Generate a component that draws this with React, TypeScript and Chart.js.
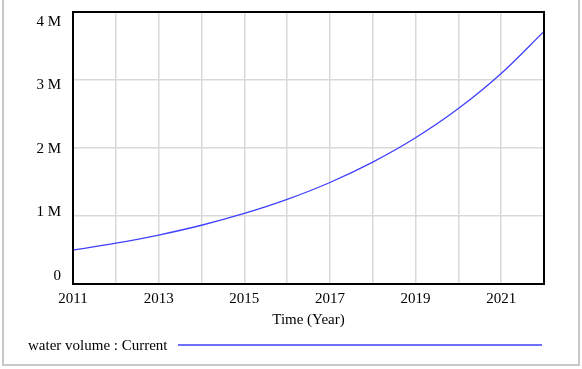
import React, { useEffect, useRef } from "react";
import { Chart, registerables } from "chart.js";

Chart.register(...registerables);

// Years (x) and water volume (millions)
const years = [2011, 2012, 2013, 2014, 2015, 2016, 2017, 2018, 2019, 2020, 2021, 2022];
const waterVolumeM = [0.5, 0.6, 0.72, 0.864, 1.037, 1.244, 1.493, 1.792, 2.15, 2.58, 3.096, 3.715];
const seriesLabel = "water volume : Current";
const xTitle = "Time (Year)";
const yTickValues = [0, 1000000, 2000000, 3000000, 4000000];

const FONT = "15px 'Liberation Serif', 'Times New Roman', serif";
const LINE_COLOR = "rgb(64,64,255)";

const decorPlugin = {
  id: "vensimDecor",
  afterDatasetsDraw(chart: any) {
    const { ctx, chartArea } = chart;
    const { left, right, top, bottom } = chartArea;
    const xs = chart.scales.x;
    ctx.save();
    // plot frame
    ctx.strokeStyle = "#000";
    ctx.lineWidth = 2;
    ctx.strokeRect(left, top, right - left, bottom - top);

    ctx.fillStyle = "#000";
    ctx.font = FONT;
    // y labels (Vensim spaces them evenly inside the frame)
    ctx.textAlign = "right";
    ctx.textBaseline = "middle";
    const yFirst = bottom - 8;
    const yLast = top + 10;
    const n = yTickValues.length;
    yTickValues.forEach((v, i) => {
      const y = yFirst - (i * (yFirst - yLast)) / (n - 1);
      const txt = v === 0 ? "0" : v / 1000000 + " M";
      ctx.fillText(txt, left - 12, y);
    });
    // x labels
    ctx.textAlign = "center";
    years.forEach((yr) => {
      if ((yr - years[0]) % 2 === 0 && yr < years[years.length - 1]) {
        ctx.fillText(String(yr), xs.getPixelForValue(yr), bottom + 15);
      }
    });
    // axis title
    ctx.fillText(xTitle, (left + right) / 2, bottom + 36);
    // legend
    ctx.textAlign = "left";
    ctx.fillText(seriesLabel, 28, bottom + 62);
    ctx.beginPath();
    ctx.strokeStyle = LINE_COLOR;
    ctx.lineWidth = 1.5;
    ctx.moveTo(178, bottom + 61);
    ctx.lineTo(542, bottom + 61);
    ctx.stroke();
    ctx.restore();
  },
};

export default function App() {
  const ref = useRef<HTMLCanvasElement>(null);
  useEffect(() => {
    if (!ref.current) return;
    const chart = new Chart(ref.current, {
      type: "line",
      data: {
        datasets: [
          {
            label: seriesLabel,
            data: years.map((yr, i) => ({ x: yr, y: waterVolumeM[i] * 1000000 })),
            borderColor: LINE_COLOR,
            borderWidth: 1.3,
            pointRadius: 0,
            cubicInterpolationMode: "monotone",
            fill: false,
          },
        ],
      },
      options: {
        animation: false,
        responsive: false,
        layout: { padding: { left: 73, top: 12, right: 38, bottom: 85 } },
        plugins: { legend: { display: false }, tooltip: { enabled: false } },
        scales: {
          x: {
            type: "linear",
            min: years[0],
            max: years[years.length - 1],
            ticks: { display: false, stepSize: 1 },
            grid: { color: "#d9d9d9", lineWidth: 1.5, drawTicks: false },
            border: { display: false },
          },
          y: {
            min: yTickValues[0],
            max: yTickValues[yTickValues.length - 1],
            ticks: { display: false, stepSize: 1000000 },
            grid: { color: "#d9d9d9", lineWidth: 1.5, drawTicks: false },
            border: { display: false },
          },
        },
      },
      plugins: [decorPlugin],
    });
    return () => chart.destroy();
  }, []);

  return (
    <div style={{ position: "fixed", left: 0, top: 0, width: 582, height: 369, background: "#fff", overflow: "hidden" }}>
      <div
        style={{
          position: "absolute",
          left: 2,
          top: -4,
          width: 578,
          height: 370,
          boxSizing: "border-box",
          border: "2px solid #c8c8c8",
        }}
      />
      <canvas ref={ref} width={582} height={369} style={{ position: "absolute", left: 0, top: 0 }} />
    </div>
  );
}
